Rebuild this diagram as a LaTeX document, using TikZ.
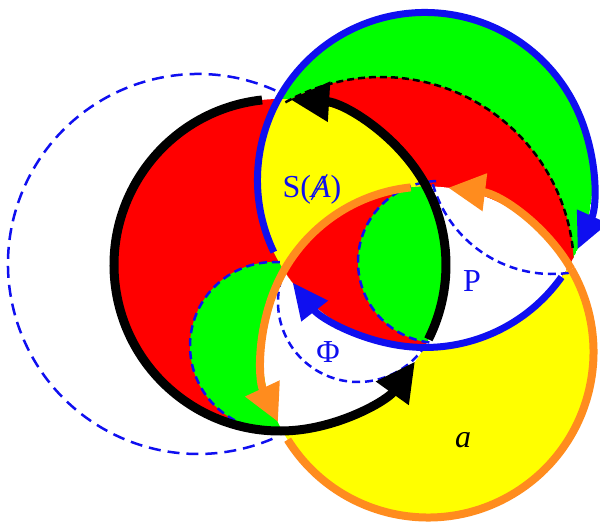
\documentclass[tikz,border=0pt]{standalone}
\usepackage{fontspec}
\setmainfont{Liberation Serif}
\usepackage{graphicx}
\usetikzlibrary{arrows.meta}
\definecolor{myred}{RGB}{255,0,0}
\definecolor{myyellow}{RGB}{255,255,0}
\definecolor{mygreen}{RGB}{0,255,0}
\definecolor{myblue}{RGB}{15,15,240}
\definecolor{myorange}{RGB}{255,140,30}
\begin{document}
\begin{tikzpicture}[x=1pt,y=1pt,
  blk/.style={line width=9pt, black},
  blu/.style={line width=7pt, myblue},
  org/.style={line width=8pt, myorange},
  bdash/.style={line width=2.5pt, myblue, dash pattern=on 8pt off 5pt},
  bigdash/.style={line width=2.5pt, myblue, dash pattern=on 12pt off 7pt},
  kdash/.style={line width=2.5pt, black, dash pattern=on 7pt off 4pt},
  lbl/.style={font=\fontsize{32}{36}\selectfont, inner sep=0pt},
  tipK/.style={-{Triangle[length=39pt,width=38pt]}},
  tipB/.style={-{Triangle[length=36pt,width=32pt]}},
  tipO/.style={-{Triangle[length=37pt,width=36pt]}}
]
\useasboundingbox (0,0) rectangle (600,530);
\fill[white] (0,0) rectangle (600,530);
\coordinate (cK) at (280,265);
\coordinate (cB) at (425,350);
\coordinate (cO) at (428,178);
\coordinate (cD) at (381,260);
\coordinate (cL) at (198,266);
\coordinate (cS1) at (274,184);
\coordinate (cS2) at (439,268);
\coordinate (cS3) at (358,228);
\coordinate (cP) at (552,380);

% big dashed circle
\draw[bigdash] ([shift={(66:190)}]cL) arc[start angle=66, end angle=294, radius=190];

% fills
\fill[myred] (cK) circle[radius=166];
\begin{scope}
  \clip (cK) circle[radius=166];
  \fill[mygreen] (cS1) circle[radius=84];
\end{scope}
\fill[myyellow] (cO) circle[radius=165.5];
\begin{scope}
  \clip (cK) circle[radius=166];
  \fill[white] (cO) circle[radius=165.5];
\end{scope}
\begin{scope}
  \clip (cB) circle[radius=167.5];
  \fill[mygreen] (cB) circle[radius=167.5];
  \fill[myred] (cD) circle[radius=193];
  \begin{scope}
    \clip (cK) circle[radius=166];
    \fill[myyellow] (cB) circle[radius=167.5];
  \end{scope}
  \begin{scope}
    \clip (cO) circle[radius=165.5];
    \fill[white] (cB) circle[radius=167.5];
  \end{scope}
  \begin{scope}
    \clip (cK) circle[radius=166];
    \clip (cO) circle[radius=165.5];
    \fill[myred] (cB) circle[radius=167.5];
    \fill[mygreen] (cS2) circle[radius=81];
  \end{scope}
\end{scope}

% dashed arcs
\draw[bdash] ([shift={(86:84)}]cS1) arc[start angle=86, end angle=274, radius=84];
\draw[bdash] ([shift={(92:81)}]cS2) arc[start angle=92, end angle=264, radius=81];
\draw[bdash] ([shift={(154:80)}]cS3) arc[start angle=154, end angle=324, radius=80];
\draw[bdash] ([shift={(196:124)}]cP) arc[start angle=196, end angle=280, radius=124];
\draw[kdash] ([shift={(119.7:193)}]cD) arc[start angle=119.7, end angle=5.4, radius=193];

% orange arcs
\draw[org, tipO] ([shift={(30:165.5)}]cO) arc[start angle=30, end angle=83, radius=165.5];
\draw[org, tipO] ([shift={(96:165.5)}]cO) arc[start angle=96, end angle=205, radius=165.5];
\draw[org] ([shift={(212:165.5)}]cO) arc[start angle=212, end angle=390, radius=165.5];

% black arcs
\draw[blk, tipK] ([shift={(96.2:166)}]cK) arc[start angle=96.2, end angle=324.4, radius=166];
\draw[blk, tipK] ([shift={(-26.6:166)}]cK) arc[start angle=-26.6, end angle=86.5, radius=166];

% blue arcs
\draw[blu, tipB] ([shift={(205.5:167.5)}]cB) arc[start angle=205.5, end angle=-24.4, radius=167.5];
\draw[blu, tipB] ([shift={(-35.4:167.5)}]cB) arc[start angle=-35.4, end angle=-142.2, radius=167.5];

% labels
\node[lbl, text=myblue] (sa) at (312,341) {S(\textit{A}\llap{\raisebox{-3pt}{\rotatebox{58}{\rule{30pt}{1.2pt}}}\kern3pt})};
\node[lbl, text=myblue] (p) at (472,249) {P};
\node[lbl, text=myblue] (phi) at (328,178) {Φ};
\node[lbl] (a) at (463,90) {\textit{a}};
\end{tikzpicture}
\end{document}
